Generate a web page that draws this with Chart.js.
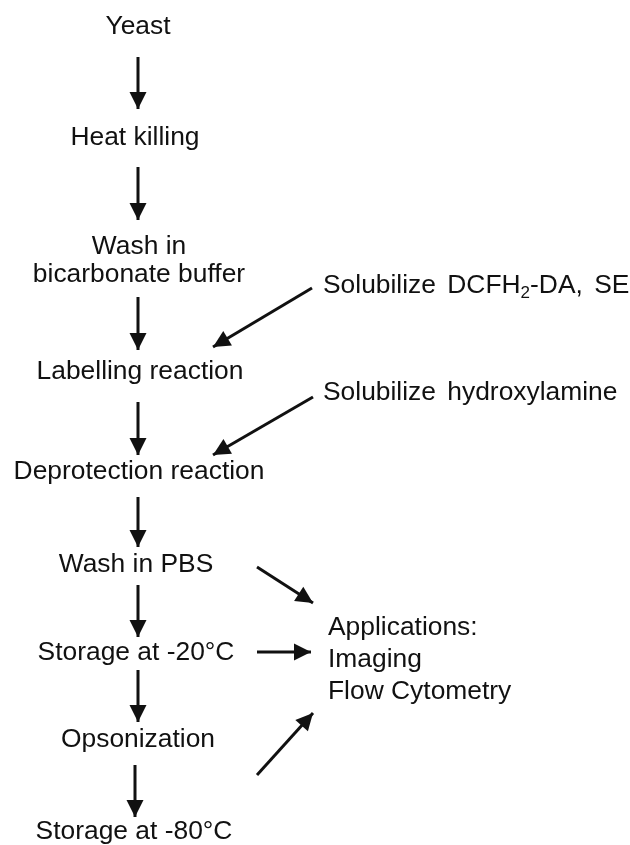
<!DOCTYPE html>
<html>
<head>
<meta charset="utf-8">
<script src="https://cdn.jsdelivr.net/npm/chart.js@4.4.1/dist/chart.umd.min.js"></script>
<style>
  html, body { margin: 0; padding: 0; background: #fff; }
  #wrap { width: 630px; height: 845px; }
</style>
</head>
<body>
<div id="wrap"><canvas id="flowChart" width="630" height="845"></canvas></div>
<script>
// Main protocol steps (centre column), each may span several lines
const steps = [
  ["Yeast"],
  ["Heat killing"],
  ["Wash in", "bicarbonate buffer"],
  ["Labelling reaction"],
  ["Deprotection reaction"],
  ["Wash in PBS"],
  ["Storage at -20°C"],
  ["Opsonization"],
  ["Storage at -80°C"],
];
const stepY = [27, 138, 261, 372, 472, 565, 653, 740, 832];
const stepX = [138, 135, 139, 140, 139, 136, 136, 138, 134];

// Reagents fed in from the right; "_" marks a subscript segment
const sideNotes = [
  ["Solubilize DCFH", "_2", "-DA, SE"],
  ["Solubilize hydroxylamine"],
];
const sideY = [286, 393];
const sideX = 323;

const appLines = ["Applications:", "Imaging", "Flow Cytometry"];
const appY = [628, 660, 692];
const appX = 328;

// Arrows: start and tip, in the same units as the text positions
const arrowFrom = [
  [138, 57], [138, 167], [138, 297], [138, 402], [138, 497],
  [138, 585], [138, 670], [135, 765],
  [312, 288], [313, 397],
  [257, 567], [257, 652], [257, 775],
];
const arrowTo = [
  [138, 109], [138, 220], [138, 350], [138, 455], [138, 547],
  [138, 637], [138, 722], [135, 817],
  [213, 347], [213, 455],
  [313, 603], [311, 652], [313, 713],
];

const FONT = "26.4px 'Liberation Sans', Arial, sans-serif";
const SUB_FONT = "17px 'Liberation Sans', Arial, sans-serif";
const INK = "#111";
const LINE_H = 28;

const arrowData = arrowFrom.map((p, i) => ({
  data: [{ x: p[0], y: p[1] }, { x: arrowTo[i][0], y: arrowTo[i][1] }],
  borderColor: INK,
  borderWidth: 3,
  pointRadius: 0,
  showLine: true,
  fill: false,
}));

// Arrowheads and labels drawn on top of the line datasets
const flowText = {
  id: "flowText",
  afterDatasetsDraw(chart) {
    const { ctx, scales } = chart;
    const px = (v) => scales.x.getPixelForValue(v);
    const py = (v) => scales.y.getPixelForValue(v);
    ctx.save();
    ctx.fillStyle = INK;

    // arrowheads
    chart.data.datasets.forEach((ds, i) => {
      const pts = chart.getDatasetMeta(i).data;
      const a = pts[0], b = pts[1];
      const ang = Math.atan2(b.y - a.y, b.x - a.x);
      const len = 17, half = 8.5;
      ctx.beginPath();
      ctx.moveTo(b.x, b.y);
      ctx.lineTo(b.x - len * Math.cos(ang) + half * Math.sin(ang),
                 b.y - len * Math.sin(ang) - half * Math.cos(ang));
      ctx.lineTo(b.x - len * Math.cos(ang) - half * Math.sin(ang),
                 b.y - len * Math.sin(ang) + half * Math.cos(ang));
      ctx.closePath();
      ctx.fill();
    });

    ctx.font = FONT;
    ctx.textBaseline = "middle";

    // centre column
    ctx.textAlign = "center";
    steps.forEach((lines, i) => {
      const top = stepY[i] - (lines.length - 1) * LINE_H / 2;
      lines.forEach((t, j) => ctx.fillText(t, px(stepX[i]), py(top + j * LINE_H)));
    });

    // side notes with subscript support, slightly wider word gaps
    ctx.textAlign = "left";
    ctx.wordSpacing = "4px";
    sideNotes.forEach((segs, i) => {
      let x = px(sideX);
      const y = py(sideY[i]);
      segs.forEach((s) => {
        if (s.startsWith("_")) {
          ctx.font = SUB_FONT;
          ctx.fillText(s.slice(1), x, y + 7);
          x += ctx.measureText(s.slice(1)).width;
          ctx.font = FONT;
        } else {
          ctx.fillText(s, x, y);
          x += ctx.measureText(s).width;
        }
      });
    });
    ctx.wordSpacing = "0px";

    appLines.forEach((t, i) => ctx.fillText(t, px(appX), py(appY[i])));
    ctx.restore();
  },
};

new Chart("flowChart", {
  type: "scatter",
  data: { datasets: arrowData },
  options: {
    responsive: false,
    animation: false,
    events: [],
    layout: { padding: 0 },
    plugins: { legend: { display: false }, tooltip: { enabled: false } },
    scales: {
      x: { type: "linear", min: 0, max: 630, display: false },
      y: { type: "linear", min: 0, max: 845, reverse: true, display: false },
    },
  },
  plugins: [flowText],
});
</script>
</body>
</html>
